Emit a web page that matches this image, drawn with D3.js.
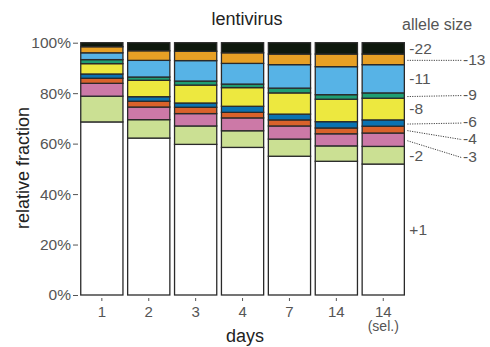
<!DOCTYPE html>
<html>
<head>
<meta charset="utf-8">
<script src="https://cdn.jsdelivr.net/npm/d3@7"></script>
<style>
  body { margin: 0; background: #fff; }
  svg { display: block; font-family: "Liberation Sans", Arial, sans-serif; }
</style>
</head>
<body>
<svg id="chart" width="490" height="347"></svg>
<script>
// Time points (the last one is the selected population)
const days = ["1", "2", "3", "4", "7", "14", "14"];
const daySubLabels = ["", "", "", "", "", "", "(sel.)"];

// Allele sizes, stacked from bottom to top
const alleles = ["+1", "-2", "-3", "-4", "-6", "-8", "-9", "-11", "-13", "-22"];
const alleleColors = ["#ffffff", "#cbe093", "#cc79a7", "#d9622b", "#0a72b0",
                      "#ede83f", "#1f9e73", "#57b3e6", "#e7a025", "#0e180d"];

// Relative fraction (%) of each allele per time point
const ins1  = [68.6, 62.2, 59.7, 58.5, 55.0, 53.0, 51.9];
const del2  = [10.2,  7.3,  7.3,  6.6,  6.8,  6.1,  7.0];
const del3  = [ 5.1,  5.0,  4.9,  5.1,  5.2,  4.8,  5.3];
const del4  = [ 2.0,  2.3,  2.5,  2.2,  2.4,  2.3,  2.7];
const del6  = [ 1.7,  1.8,  1.7,  2.4,  2.3,  2.5,  2.5];
const del8  = [ 4.1,  6.5,  7.1,  7.4,  8.4,  8.9,  8.6];
const del9  = [ 1.6,  1.3,  1.6,  1.4,  1.9,  1.8,  2.1];
const del11 = [ 2.7,  6.6,  8.1,  8.2,  9.3, 11.1, 11.2];
const del13 = [ 2.4,  3.8,  3.7,  4.2,  4.2,  5.0,  4.2];
const del22 = [ 1.6,  3.2,  3.4,  4.0,  4.5,  4.5,  4.5];

const yTicks = [0, 20, 40, 60, 80, 100];

const seriesValues = [ins1, del2, del3, del4, del6, del8, del9, del11, del13, del22];

// Build one row per time point for d3.stack
const rows = days.map((d, i) => {
  const r = { idx: i };
  alleles.forEach((a, k) => { r[a] = seriesValues[k][i]; });
  return r;
});

const svg = d3.select("#chart");

const x = d3.scaleBand()
  .domain(d3.range(days.length))
  .range([78.4, 406.7])
  .paddingInner(0.1)
  .paddingOuter(0.05);

const y = d3.scaleLinear().domain([0, 100]).range([295, 42.7]);

const color = d3.scaleOrdinal().domain(alleles).range(alleleColors);

const stacked = d3.stack().keys(alleles)(rows);

// Stacked bars
svg.append("g")
  .selectAll("g")
  .data(stacked)
  .join("g")
    .attr("fill", d => color(d.key))
  .selectAll("rect")
  .data(d => d)
  .join("rect")
    .attr("x", d => x(d.data.idx))
    .attr("width", x.bandwidth())
    .attr("y", d => y(d[1]))
    .attr("height", d => y(d[0]) - y(d[1]))
    .attr("stroke", "#2a2a2a")
    .attr("stroke-width", 1.3);

// Y axis: short detached ticks, no domain line
const yAxis = svg.append("g")
  .attr("transform", "translate(78,0)")
  .call(d3.axisLeft(y).tickValues(yTicks).tickFormat(d => d + "%").tickSize(5).tickPadding(2));
yAxis.select(".domain").remove();
yAxis.selectAll(".tick line").attr("stroke", "#555");
yAxis.selectAll(".tick text")
  .attr("fill", "#555")
  .style("font-size", "15.5px")
  .style("font-family", "'Liberation Sans', Arial, sans-serif");

// X axis
const xAxis = svg.append("g")
  .attr("transform", "translate(0,298)")
  .call(d3.axisBottom(x).tickFormat(i => days[i]).tickSize(3).tickPadding(5));
xAxis.select(".domain").remove();
xAxis.selectAll(".tick line").attr("stroke", "#555");
xAxis.selectAll(".tick text")
  .attr("fill", "#555")
  .style("font-size", "15px")
  .style("font-family", "'Liberation Sans', Arial, sans-serif");
xAxis.selectAll(".tick")
  .append("text")
  .attr("y", 33)
  .attr("fill", "#555")
  .attr("text-anchor", "middle")
  .style("font-size", "14px")
  .style("font-family", "'Liberation Sans', Arial, sans-serif")
  .text(i => daySubLabels[i]);

// Titles
svg.append("text")
  .attr("x", 247).attr("y", 25)
  .attr("text-anchor", "middle")
  .attr("fill", "#222")
  .style("font-size", "18px")
  .text("lentivirus");

svg.append("text")
  .attr("x", 245).attr("y", 342)
  .attr("text-anchor", "middle")
  .attr("fill", "#222")
  .style("font-size", "18px")
  .text("days");

svg.append("text")
  .attr("transform", "translate(29,168) rotate(-90)")
  .attr("text-anchor", "middle")
  .attr("fill", "#222")
  .style("font-size", "18px")
  .text("relative fraction");

svg.append("text")
  .attr("x", 402).attr("y", 30)
  .attr("fill", "#555")
  .style("font-size", "16px")
  .text("allele size");

// Allele labels beside the last bar; thin segments get a dotted leader
const last = days.length - 1;
const barRight = x(last) + x.bandwidth();
const farShift = { "-13": 0, "-9": -1, "-6": -1, "-4": 9, "-3": 17 };
const labels = svg.append("g")
  .attr("fill", "#555")
  .style("font-size", "15.5px");

stacked.forEach(s => {
  const seg = s[last];
  const mid = (y(seg[0]) + y(seg[1])) / 2;
  if (s.key in farShift) {
    const endY = mid + farShift[s.key];
    labels.append("line")
      .attr("x1", barRight + 3).attr("y1", mid + 1)
      .attr("x2", 462).attr("y2", endY + 1)
      .attr("stroke", "#444")
      .attr("stroke-width", 1)
      .attr("stroke-dasharray", "1.2,1.2");
    labels.append("text")
      .attr("x", 463).attr("y", endY)
      .attr("dy", "0.35em")
      .text(s.key);
  } else {
    labels.append("text")
      .attr("x", barRight + 5).attr("y", mid)
      .attr("dy", "0.35em")
      .text(s.key);
  }
});
</script>
</body>
</html>
